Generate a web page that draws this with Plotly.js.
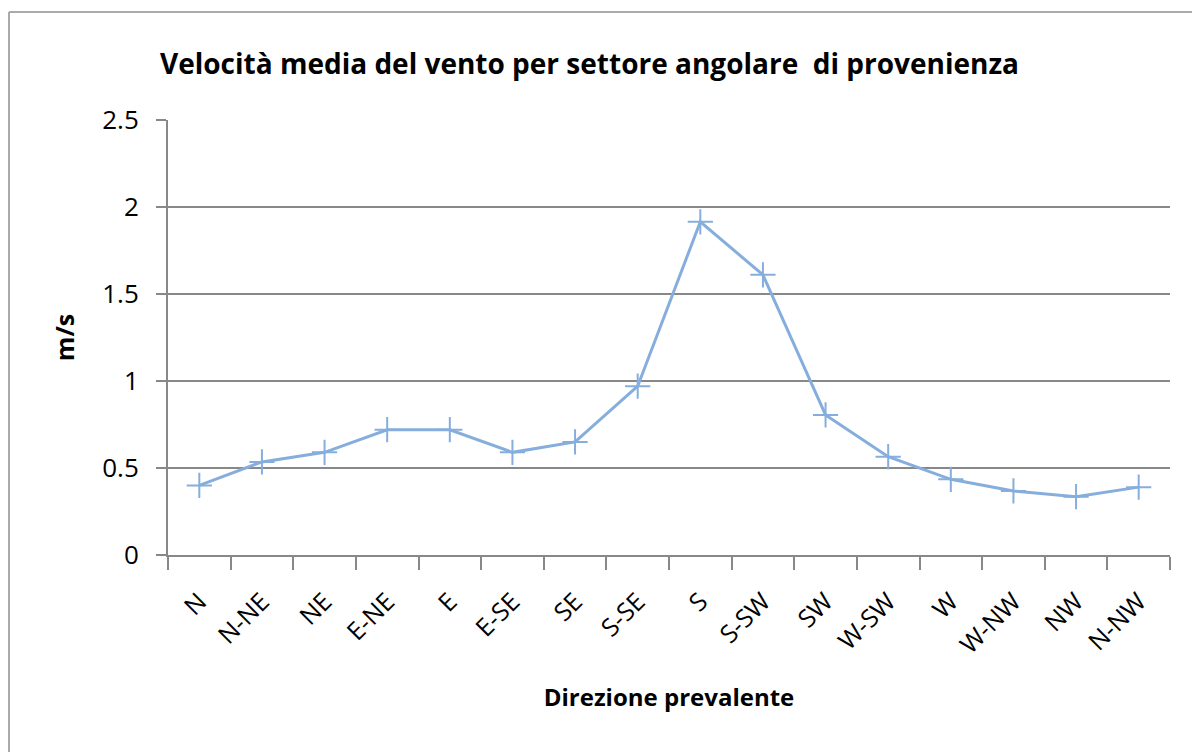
<!DOCTYPE html>
<html>
<head>
<meta charset="utf-8">
<script src="https://cdn.plot.ly/plotly-3.0.1.min.js"></script>
<style>
html,body{margin:0;padding:0;background:#fff;}
#chart{width:1192px;height:752px;}
</style>
</head>
<body>
<div id="chart"></div>
<script>
const directions = ["N","N-NE","NE","E-NE","E","E-SE","SE","S-SE","S","S-SW","SW","W-SW","W","W-NW","NW","N-NW"];
const speeds = [0.40,0.535,0.59,0.72,0.72,0.59,0.65,0.97,1.915,1.61,0.805,0.565,0.435,0.368,0.335,0.39];
const yTicks = [0,0.5,1,1.5,2,2.5];
const yTickText = ["0","0.5","1","1.5","2","2.5"];

const fontFam = "'Open Sans', Lato, sans-serif";
const W = 1192, H = 752;
const L = 168, R = 22, T = 120, B = 197;
const pw = W - L - R, ph = H - T - B;

const trace = {
  x: directions,
  y: speeds,
  type: 'scatter',
  mode: 'lines+markers',
  line: {color: '#86aedd', width: 3},
  marker: {symbol: 'cross-thin', size: 18, line: {color: '#86aedd', width: 2}, color: '#86aedd'},
  hoverinfo: 'x+y'
};

const layout = {
  width: W, height: H,
  margin: {l: L, r: R, t: T, b: B},
  paper_bgcolor: '#fff', plot_bgcolor: '#fff',
  showlegend: false,
  title: {
    text: '<b>Velocità media del vento per settore angolare  di provenienza</b>',
    x: 160 / W, xanchor: 'left', xref: 'container',
    y: 1 - 64 / H, yanchor: 'middle', yref: 'container',
    font: {family: fontFam, size: 28, color: '#000'}
  },
  xaxis: {
    type: 'category',
    tickson: 'boundaries',
    ticks: 'outside', ticklen: 13, tickwidth: 2, tickcolor: '#888',
    showline: true, linecolor: '#888', linewidth: 2,
    showgrid: false,
    tickangle: -45,
    tickfont: {family: fontFam, size: 25, color: '#000'},
    ticklabelstandoff: 20,
    title: {text: '<b>Direzione prevalente</b>', font: {family: fontFam, size: 24, color: '#000'}, standoff: 30},
    range: [-0.5, 15.5],
    fixedrange: true
  },
  yaxis: {
    range: [0, 2.5],
    tickvals: yTicks, ticktext: yTickText,
    ticks: 'outside', ticklen: 10, tickwidth: 2, tickcolor: '#888',
    showline: true, linecolor: '#888', linewidth: 2,
    showgrid: true, gridcolor: '#888', gridwidth: 2,
    zeroline: false,
    tickfont: {family: fontFam, size: 26, color: '#000'},
    ticklabelstandoff: 12,
    title: {text: '<b>m/s</b>', font: {family: fontFam, size: 25, color: '#000'}, standoff: 20},
    fixedrange: true
  },
  shapes: [
    {type: 'line', xref: 'paper', yref: 'paper', x0: (9 - L) / pw, x1: (W - L) / pw + 0.01, y0: (H - B - 12) / ph, y1: (H - B - 12) / ph, line: {color: '#aaa', width: 2}},
    {type: 'line', xref: 'paper', yref: 'paper', x0: (9 - L) / pw, x1: (9 - L) / pw, y0: (H - B - 12) / ph, y1: -B / ph - 0.01, line: {color: '#aaa', width: 2}}
  ]
};

Plotly.newPlot('chart', [trace], layout, {displayModeBar: false, staticPlot: true});
</script>
</body>
</html>
